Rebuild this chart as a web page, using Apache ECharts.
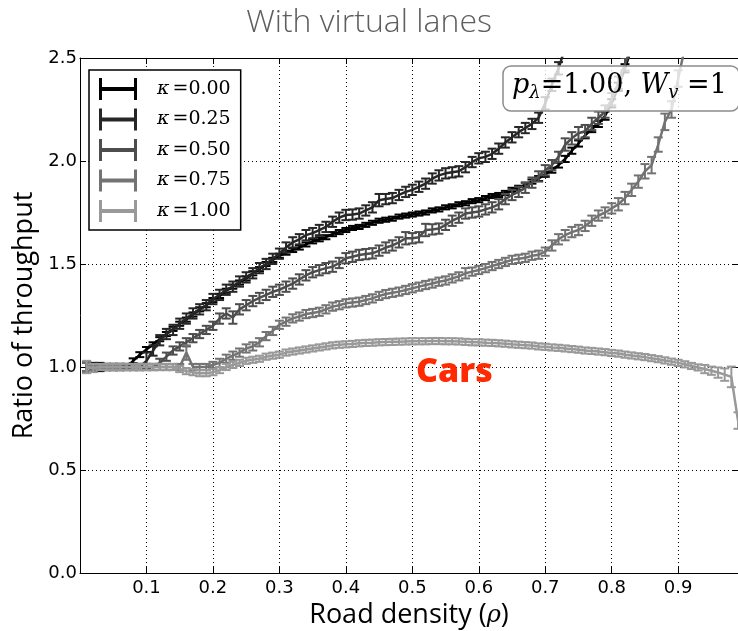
<!DOCTYPE html>
<html>
<head>
<meta charset="utf-8">
<script src="https://cdn.jsdelivr.net/npm/echarts@6/dist/echarts.min.js"></script>
<style>
  html, body { margin: 0; padding: 0; background: #fff; }
  #chart { width: 738px; height: 631px; }
</style>
</head>
<body>
<div id="chart"></div>
<script>
// Road density values (x) shared by all series
const density = [
  0.01,0.02,0.03,0.04,0.05,0.06,0.07,0.08,0.09,0.10,
  0.11,0.12,0.13,0.14,0.15,0.16,0.17,0.18,0.19,0.20,
  0.21,0.22,0.23,0.24,0.25,0.26,0.27,0.28,0.29,0.30,
  0.31,0.32,0.33,0.34,0.35,0.36,0.37,0.38,0.39,0.40,
  0.41,0.42,0.43,0.44,0.45,0.46,0.47,0.48,0.49,0.50,
  0.51,0.52,0.53,0.54,0.55,0.56,0.57,0.58,0.59,0.60,
  0.61,0.62,0.63,0.64,0.65,0.66,0.67,0.68,0.69,0.70,
  0.71,0.72,0.73,0.74,0.75,0.76,0.77,0.78,0.79,0.80,
  0.81,0.82,0.83,0.84,0.85,0.86,0.87,0.88,0.89,0.90,
  0.91,0.92,0.93,0.94,0.95,0.96,0.97,0.98,0.99
];

const kappaNames = ['κ=0.00', 'κ=0.25', 'κ=0.50', 'κ=0.75', 'κ=1.00'];
const kappaColors = ['#000000', '#262626', '#4d4d4d', '#737373', '#999999'];

// Throughput ratio, kappa = 0.00
const ratioK000 = [
  1.00,1.00,1.00,1.00,1.00,1.00,1.00,1.03,1.06,1.085,
  1.11,1.135,1.16,1.185,1.21,1.23,1.255,1.28,1.30,1.325,
  1.345,1.37,1.39,1.41,1.43,1.455,1.475,1.50,1.52,1.54,
  1.555,1.568,1.58,1.595,1.61,1.62,1.63,1.645,1.655,1.665,
  1.675,1.68,1.69,1.70,1.71,1.715,1.72,1.73,1.735,1.74,
  1.745,1.75,1.76,1.765,1.775,1.78,1.79,1.795,1.805,1.81,
  1.82,1.83,1.835,1.845,1.86,1.87,1.885,1.90,1.915,1.935,
  1.955,1.98,2.01,2.05,2.085,2.125,2.155,2.18,2.22,2.28,
  2.36,2.45,2.55
];
const errK000 = [
  0.025,0.02,0.02,0.015,0.015,0.015,0.012,0.012,0.012,0.012,
  0.01,0.01,0.01,0.01,0.01,0.01,0.01,0.01,0.01,0.01,
  0.01,0.01,0.01,0.01,0.01,0.01,0.01,0.01,0.01,0.01,
  0.01,0.01,0.01,0.01,0.01,0.01,0.01,0.01,0.01,0.01,
  0.01,0.01,0.01,0.01,0.01,0.01,0.01,0.01,0.01,0.01,
  0.01,0.01,0.01,0.01,0.01,0.01,0.01,0.01,0.01,0.01,
  0.01,0.01,0.01,0.01,0.01,0.01,0.01,0.01,0.012,0.012,
  0.012,0.012,0.015,0.015,0.015,0.015,0.015,0.015,0.02,0.02,
  0.02,0.02,0.02
];

// Throughput ratio, kappa = 0.25
const ratioK025 = [
  1.00,1.00,1.00,1.00,1.00,1.00,1.00,1.00,1.00,1.03,
  1.08,1.13,1.16,1.18,1.21,1.235,1.26,1.28,1.30,1.33,
  1.35,1.375,1.39,1.415,1.435,1.455,1.48,1.50,1.525,1.55,
  1.58,1.605,1.62,1.64,1.65,1.665,1.68,1.705,1.725,1.738,
  1.74,1.745,1.76,1.775,1.81,1.815,1.82,1.835,1.85,1.86,
  1.875,1.89,1.915,1.93,1.94,1.945,1.95,1.97,1.995,2.013,
  2.02,2.035,2.06,2.09,2.115,2.14,2.16,2.18,2.21,2.28,
  2.37,2.45,2.55
];
const errK025 = [
  0.02,0.015,0.015,0.015,0.015,0.015,0.015,0.015,0.015,0.04,
  0.025,0.025,0.025,0.025,0.025,0.025,0.025,0.025,0.025,0.025,
  0.025,0.025,0.025,0.025,0.025,0.025,0.025,0.025,0.025,0.025,
  0.025,0.025,0.025,0.025,0.025,0.025,0.025,0.025,0.025,0.025,
  0.025,0.025,0.025,0.025,0.03,0.025,0.025,0.025,0.025,0.025,
  0.025,0.025,0.025,0.025,0.025,0.025,0.025,0.025,0.025,0.025,
  0.025,0.025,0.025,0.025,0.025,0.025,0.025,0.025,0.025,0.03,
  0.03,0.03,0.03
];

// Throughput ratio, kappa = 0.50
const ratioK050 = [
  1.00,1.00,1.00,1.00,1.00,1.00,1.00,1.00,1.00,1.00,
  1.00,1.02,1.05,1.08,1.10,1.12,1.14,1.16,1.18,1.20,
  1.235,1.26,1.24,1.28,1.30,1.32,1.335,1.35,1.365,1.375,
  1.39,1.405,1.425,1.445,1.46,1.47,1.48,1.487,1.505,1.528,
  1.535,1.544,1.548,1.552,1.565,1.58,1.59,1.605,1.625,1.625,
  1.63,1.665,1.668,1.672,1.69,1.71,1.725,1.745,1.75,1.755,
  1.765,1.775,1.79,1.815,1.835,1.85,1.87,1.895,1.925,1.955,
  1.98,2.02,2.08,2.11,2.135,2.145,2.18,2.21,2.24,2.30,
  2.38,2.47,2.56
];
const errK050 = [
  0.02,0.015,0.015,0.015,0.015,0.015,0.015,0.015,0.015,0.015,
  0.015,0.02,0.02,0.02,0.02,0.02,0.02,0.02,0.02,0.02,
  0.025,0.025,0.03,0.025,0.025,0.025,0.025,0.025,0.025,0.025,
  0.025,0.025,0.025,0.025,0.025,0.025,0.025,0.025,0.025,0.025,
  0.025,0.025,0.025,0.025,0.025,0.025,0.025,0.025,0.03,0.025,
  0.025,0.03,0.025,0.025,0.025,0.025,0.025,0.025,0.025,0.025,
  0.025,0.025,0.025,0.025,0.025,0.025,0.025,0.025,0.025,0.025,
  0.025,0.025,0.03,0.03,0.03,0.03,0.03,0.03,0.03,0.03,
  0.03,0.03,0.03
];

// Throughput ratio, kappa = 0.75
const ratioK075 = [
  1.00,1.00,1.00,1.00,1.00,1.00,1.00,1.00,1.00,1.00,
  1.00,1.00,1.00,1.00,1.00,1.07,1.00,1.00,1.00,1.01,
  1.02,1.04,1.055,1.07,1.09,1.10,1.12,1.15,1.175,1.205,
  1.22,1.236,1.245,1.257,1.262,1.268,1.28,1.293,1.30,1.309,
  1.313,1.317,1.325,1.333,1.345,1.354,1.36,1.366,1.374,1.382,
  1.39,1.398,1.405,1.414,1.42,1.43,1.44,1.455,1.463,1.471,
  1.48,1.49,1.50,1.51,1.52,1.525,1.53,1.54,1.545,1.56,
  1.59,1.62,1.64,1.655,1.665,1.685,1.71,1.735,1.75,1.77,
  1.79,1.82,1.86,1.90,1.95,1.98,2.08,2.19,2.25,2.40,
  2.55
];
const errK075 = [
  0.02,0.015,0.015,0.015,0.015,0.015,0.015,0.015,0.015,0.015,
  0.015,0.015,0.015,0.015,0.015,0.035,0.015,0.015,0.015,0.015,
  0.02,0.02,0.02,0.02,0.02,0.02,0.02,0.02,0.02,0.02,
  0.02,0.02,0.02,0.02,0.02,0.02,0.02,0.02,0.02,0.02,
  0.02,0.02,0.02,0.02,0.02,0.02,0.02,0.02,0.02,0.02,
  0.02,0.02,0.02,0.02,0.02,0.02,0.02,0.025,0.02,0.02,
  0.02,0.02,0.02,0.02,0.02,0.02,0.02,0.02,0.02,0.02,
  0.025,0.025,0.025,0.025,0.025,0.025,0.025,0.025,0.025,0.025,
  0.03,0.03,0.03,0.03,0.035,0.04,0.035,0.04,0.04,0.04,
  0.04
];

// Throughput ratio, kappa = 1.00
const ratioK100 = [
  1.00,0.995,1.00,1.00,1.00,1.00,1.00,1.00,1.00,1.00,
  1.00,1.00,1.00,1.00,0.99,0.98,0.975,0.97,0.97,0.975,
  0.985,1.00,1.01,1.02,1.03,1.035,1.04,1.05,1.055,1.06,
  1.07,1.075,1.08,1.085,1.09,1.095,1.10,1.105,1.108,1.11,
  1.112,1.115,1.117,1.118,1.12,1.121,1.122,1.123,1.124,1.125,
  1.125,1.125,1.126,1.126,1.125,1.125,1.124,1.122,1.12,1.12,
  1.118,1.117,1.115,1.113,1.11,1.108,1.106,1.104,1.10,1.098,
  1.095,1.093,1.09,1.087,1.084,1.08,1.078,1.075,1.072,1.068,
  1.065,1.06,1.056,1.052,1.048,1.043,1.038,1.032,1.026,1.02,
  1.013,1.005,0.998,0.99,0.982,0.973,0.963,0.952,0.74
];
const errK100 = [
  0.03,0.02,0.015,0.015,0.015,0.015,0.015,0.015,0.015,0.015,
  0.015,0.015,0.015,0.015,0.015,0.015,0.015,0.015,0.015,0.015,
  0.015,0.015,0.015,0.015,0.015,0.015,0.015,0.015,0.015,0.015,
  0.015,0.015,0.015,0.015,0.015,0.015,0.015,0.015,0.015,0.015,
  0.015,0.015,0.015,0.015,0.015,0.015,0.015,0.015,0.015,0.015,
  0.015,0.015,0.015,0.015,0.015,0.015,0.015,0.015,0.015,0.015,
  0.015,0.015,0.015,0.015,0.015,0.015,0.015,0.015,0.015,0.015,
  0.015,0.015,0.015,0.015,0.015,0.015,0.015,0.015,0.015,0.015,
  0.015,0.015,0.015,0.015,0.015,0.015,0.015,0.015,0.015,0.015,
  0.015,0.015,0.015,0.02,0.02,0.025,0.03,0.05,0.04
];

const xTicks = [0.1, 0.2, 0.3, 0.4, 0.5, 0.6, 0.7, 0.8, 0.9];
const yTicks = [0.0, 0.5, 1.0, 1.5, 2.0, 2.5];

const ratios = [ratioK000, ratioK025, ratioK050, ratioK075, ratioK100];
const errors = [errK000, errK025, errK050, errK075, errK100];

const tickFont = '"DejaVu Sans", "Liberation Sans", sans-serif';
const nameFont = '"Open Sans", Lato, sans-serif';
const mathFont = '"DejaVu Serif", "Liberation Serif", serif';

function errorBarRenderer(color) {
  return function (params, api) {
    const x = api.value(0), y = api.value(1), e = api.value(2);
    const top = api.coord([x, y + e]);
    const bot = api.coord([x, y - e]);
    const hw = 4.5;
    const st = { stroke: color, lineWidth: 2 };
    return {
      type: 'group',
      children: [
        { type: 'line', shape: { x1: top[0], y1: top[1], x2: bot[0], y2: bot[1] }, style: st },
        { type: 'line', shape: { x1: top[0] - hw, y1: top[1], x2: top[0] + hw, y2: top[1] }, style: st },
        { type: 'line', shape: { x1: bot[0] - hw, y1: bot[1], x2: bot[0] + hw, y2: bot[1] }, style: st }
      ]
    };
  };
}

const series = [];
ratios.forEach(function (vals, i) {
  const lineData = vals.map(function (v, j) { return [density[j], v]; });
  const errData = vals.map(function (v, j) { return [density[j], v, errors[i][j]]; });
  series.push({
    name: kappaNames[i],
    type: 'line',
    data: lineData,
    showSymbol: false,
    clip: true,
    z: 2 + i,
    lineStyle: { color: kappaColors[i], width: 2.5 },
    itemStyle: { color: kappaColors[i] },
    animation: false
  });
  series.push({
    name: kappaNames[i],
    type: 'custom',
    data: errData,
    clip: true,
    z: 2 + i,
    renderItem: errorBarRenderer(kappaColors[i]),
    itemStyle: { color: kappaColors[i] },
    animation: false
  });
});

const gridLine = { show: true, lineStyle: { color: '#000', type: [1, 3], width: 1 } };

const option = {
  backgroundColor: '#fff',
  animation: false,
  title: {
    text: 'With virtual lanes',
    left: 'center',
    top: 2,
    textStyle: { fontFamily: nameFont, fontWeight: 300, fontSize: 32, color: '#5e5e5e' }
  },
  grid: {
    left: 80, top: 58, width: 658, height: 515,
    containLabel: false, outerBoundsMode: 'none'
  },
  xAxis: [{
    type: 'value', min: 0, max: 0.99, interval: 0.1,
    name: 'Road density ({r|ρ})',
    nameLocation: 'middle', nameGap: 23,
    nameTextStyle: {
      fontFamily: nameFont, fontSize: 27, color: '#000',
      rich: { r: { fontFamily: mathFont, fontStyle: 'italic', fontSize: 24, color: '#000' } }
    },
    axisLine: { show: true, onZero: false, lineStyle: { color: '#000', width: 1 } },
    axisTick: { show: true, inside: true, length: 6, lineStyle: { color: '#000' } },
    axisLabel: {
      showMinLabel: false, showMaxLabel: false, margin: 6,
      fontFamily: tickFont, fontSize: 18, color: '#000',
      formatter: function (v) { return xTicks.indexOf(+v.toFixed(2)) >= 0 ? v.toFixed(1) : ''; }
    },
    splitLine: gridLine
  }, {
    type: 'value', min: 0, max: 0.99, interval: 0.1, position: 'top',
    axisLine: { show: true, onZero: false, lineStyle: { color: '#000', width: 1 } },
    axisTick: { show: true, inside: true, length: 6, lineStyle: { color: '#000' } },
    axisLabel: { show: false },
    splitLine: { show: false }
  }],
  yAxis: [{
    type: 'value', min: 0, max: 2.5, interval: 0.5,
    name: 'Ratio of throughput',
    nameLocation: 'middle', nameGap: 39,
    nameTextStyle: { fontFamily: nameFont, fontSize: 27, color: '#000' },
    axisLine: { show: true, onZero: false, lineStyle: { color: '#000', width: 1 } },
    axisTick: { show: true, inside: true, length: 6, lineStyle: { color: '#000' } },
    axisLabel: {
      margin: 3, fontFamily: tickFont, fontSize: 18, color: '#000',
      formatter: function (v) { return yTicks.indexOf(+v.toFixed(2)) >= 0 ? v.toFixed(1) : ''; }
    },
    splitLine: gridLine
  }, {
    type: 'value', min: 0, max: 2.5, interval: 0.5, position: 'right',
    axisLine: { show: true, onZero: false, lineStyle: { color: '#000', width: 1 } },
    axisTick: { show: true, inside: true, length: 6, lineStyle: { color: '#000' } },
    axisLabel: { show: false },
    splitLine: { show: false }
  }],
  legend: {
    data: kappaNames,
    orient: 'vertical',
    left: 89, top: 70,
    padding: [8, 10, 8, 10],
    itemGap: 8.5,
    itemWidth: 38, itemHeight: 22,
    backgroundColor: '#fff',
    borderColor: '#000', borderWidth: 1.5, borderRadius: 0,
    icon: 'path://M0,0 L3,0 L3,9 L35,9 L35,0 L38,0 L38,22 L35,22 L35,13 L3,13 L3,22 L0,22 Z',
    z: 20,
    formatter: function (name) {
      return '{s|}{k|κ}{e|' + name.slice(1) + '}';
    },
    textStyle: {
      color: '#000',
      rich: {
        s: { width: 15 },
        k: { fontFamily: mathFont, fontStyle: 'italic', fontSize: 19, padding: [0, 3, 0, 0] },
        e: { fontFamily: mathFont, fontSize: 19 }
      }
    }
  },
  graphic: [
    {
      type: 'rect', z: 30,
      shape: { x: 503, y: 66, width: 236, height: 45, r: 8 },
      style: { fill: 'rgba(255,255,255,0.78)', stroke: '#8c8c8c', lineWidth: 1.5 }
    },
    {
      type: 'text', z: 31, left: 512, top: 72,
      style: {
        text: '{i|p}{sub|λ}{n|=1.00, }{i|W}{sub|v}{n| =1}',
        rich: {
          i: { fontFamily: mathFont, fontStyle: 'italic', fontSize: 27, color: '#000' },
          n: { fontFamily: mathFont, fontSize: 27, color: '#000' },
          sub: { fontFamily: mathFont, fontStyle: 'italic', fontSize: 18, color: '#000', padding: [16, 0, 0, 0] }
        }
      }
    },
    {
      type: 'text', z: 31, left: 416, top: 355,
      style: {
        text: 'Cars',
        fontFamily: '"Open Sans", Lato, sans-serif',
        fontWeight: 800, fontSize: 34, fill: '#ff2a00'
      }
    }
  ],
  series: series
};

const chart = echarts.init(document.getElementById('chart'), null, { renderer: 'canvas' });
chart.setOption(option);
</script>
</body>
</html>
